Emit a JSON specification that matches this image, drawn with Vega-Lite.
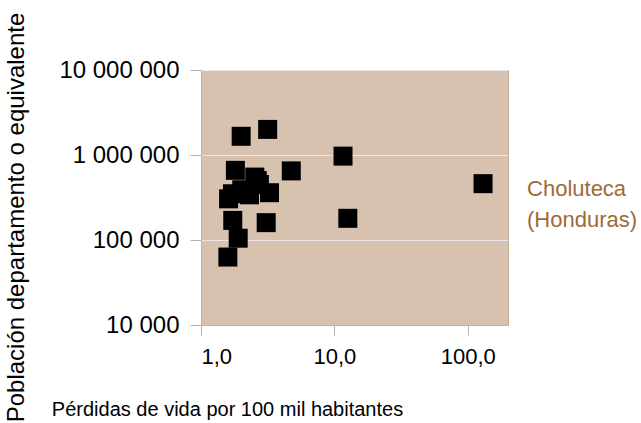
{
  "$schema": "https://vega.github.io/schema/vega-lite/v6.json",
  "autosize": "none",
  "width": 307,
  "height": 255,
  "padding": {"left": 201, "top": 70, "right": 133, "bottom": 98},
  "background": "white",
  "config": {
    "font": "Liberation Sans",
    "locale": {"number": {"decimal": ",", "thousands": " ", "grouping": [3], "currency": ["", ""]}},
    "view": {"fill": "#d6c2ae", "stroke": "#c9ad92", "strokeWidth": 1},
    "axis": {"labelColor": "#000000", "titleColor": "#000000", "titleFontWeight": "normal", "domainColor": "#b3b3b3", "tickColor": "#b3b3b3", "gridColor": "#ece4ec", "gridOpacity": 1}
  },
  "data": {
    "values": [
      {"perdidas": 2.0, "poblacion": 1660000, "nombre": ""},
      {"perdidas": 3.16, "poblacion": 2000000, "nombre": ""},
      {"perdidas": 11.6, "poblacion": 970000, "nombre": ""},
      {"perdidas": 4.75, "poblacion": 650000, "nombre": ""},
      {"perdidas": 130, "poblacion": 460000, "nombre": "Choluteca\n(Honduras)"},
      {"perdidas": 12.6, "poblacion": 180000, "nombre": ""},
      {"perdidas": 3.08, "poblacion": 160000, "nombre": ""},
      {"perdidas": 1.73, "poblacion": 170000, "nombre": ""},
      {"perdidas": 1.9, "poblacion": 105000, "nombre": ""},
      {"perdidas": 1.59, "poblacion": 63000, "nombre": ""},
      {"perdidas": 1.81, "poblacion": 660000, "nombre": ""},
      {"perdidas": 1.61, "poblacion": 305000, "nombre": ""},
      {"perdidas": 1.72, "poblacion": 350000, "nombre": ""},
      {"perdidas": 2.02, "poblacion": 390000, "nombre": ""},
      {"perdidas": 2.31, "poblacion": 340000, "nombre": ""},
      {"perdidas": 2.53, "poblacion": 550000, "nombre": ""},
      {"perdidas": 2.64, "poblacion": 500000, "nombre": ""},
      {"perdidas": 2.74, "poblacion": 450000, "nombre": ""},
      {"perdidas": 3.26, "poblacion": 360000, "nombre": ""}
    ]
  },
  "encoding": {
    "x": {
      "field": "perdidas", "type": "quantitative",
      "scale": {"type": "log", "domain": [1, 200], "nice": false},
      "axis": {
        "title": "Pérdidas de vida por 100 mil habitantes",
        "values": [1, 10, 100], "format": ".1f", "grid": false,
        "labelFontSize": 22, "tickSize": 10, "labelPadding": 11,
        "titleFontSize": 20, "titleX": 26, "titleY": 90, "titleBaseline": "alphabetic", "titleAlign": "center"
      }
    },
    "y": {
      "field": "poblacion", "type": "quantitative",
      "scale": {"type": "log", "domain": [10000, 10000000], "nice": false},
      "axis": {
        "title": "Población departamento o equivalente",
        "values": [10000, 100000, 1000000, 10000000], "format": ",.0f", "grid": true,
        "labelFontSize": 24, "tickSize": 11, "labelPadding": 11,
        "titleFontSize": 24, "titleX": -173, "titleY": 147, "titleAlign": "center", "titleBaseline": "bottom", "titleAngle": -90
      }
    }
  },
  "layer": [
    {
      "mark": {"type": "square", "size": 361, "filled": true, "color": "#000000", "opacity": 1, "clip": false}
    },
    {
      "transform": [{"filter": "datum.nombre != ''"}],
      "mark": {"type": "text", "align": "left", "baseline": "alphabetic", "dx": 44, "dy": 12, "fontSize": 22, "lineBreak": "\n", "lineHeight": 31, "color": "#a06a37"},
      "encoding": {"text": {"field": "nombre"}}
    }
  ]
}
